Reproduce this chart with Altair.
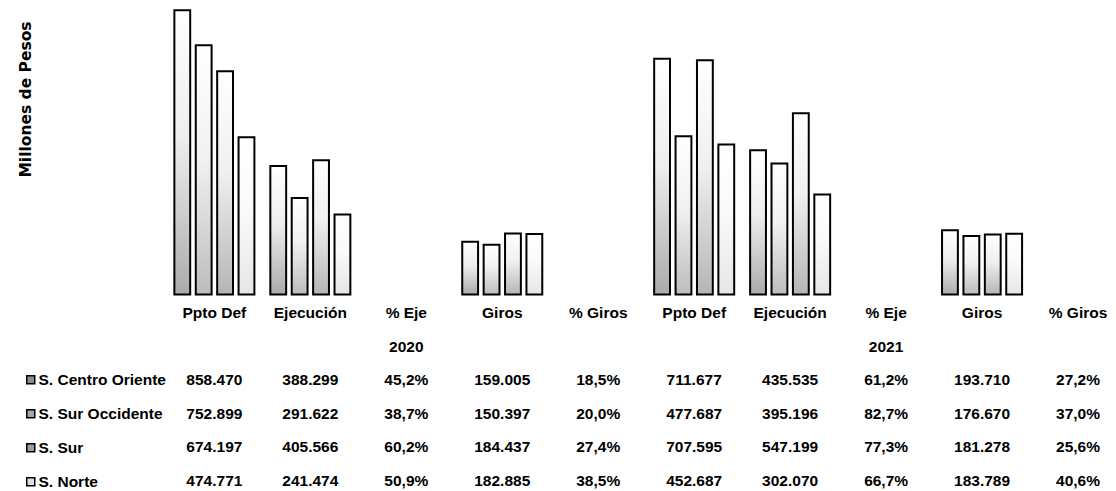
import altair as alt
import pandas as pd

# ---------------- data ----------------
series = ["S. Centro Oriente", "S. Sur Occidente", "S. Sur", "S. Norte"]

ppto_2020 = [858470, 752899, 674197, 474771]
ejec_2020 = [388299, 291622, 405566, 241474]
pct_eje_2020 = [45.2, 38.7, 60.2, 50.9]
giros_2020 = [159005, 150397, 184437, 182885]
pct_giros_2020 = [18.5, 20.0, 27.4, 38.5]

ppto_2021 = [711677, 477687, 707595, 452687]
ejec_2021 = [435535, 395196, 547199, 302070]
pct_eje_2021 = [61.2, 82.7, 77.3, 66.7]
giros_2021 = [193710, 176670, 181278, 183789]
pct_giros_2021 = [27.2, 37.0, 25.6, 40.6]

columns = [
    ("Ppto Def", "2020", ppto_2020, "money"),
    ("Ejecución", "2020", ejec_2020, "money"),
    ("% Eje", "2020", pct_eje_2020, "pct"),
    ("Giros", "2020", giros_2020, "money"),
    ("% Giros", "2020", pct_giros_2020, "pct"),
    ("Ppto Def", "2021", ppto_2021, "money"),
    ("Ejecución", "2021", ejec_2021, "money"),
    ("% Eje", "2021", pct_eje_2021, "pct"),
    ("Giros", "2021", giros_2021, "money"),
    ("% Giros", "2021", pct_giros_2021, "pct"),
]

rows = []
text_rows = []
for label, year, vals, kind in columns:
    key = f"{label}|{year}"
    # header lines of the data table
    text_rows.append(dict(key=key, row="h1", txt=label))
    if label == "% Eje":
        text_rows.append(dict(key=key, row="h2", txt=year))
    for s, v in zip(series, vals):
        if kind == "money":
            txt = f"{v:,}".replace(",", ".")
            rows.append(dict(key=key, series=s, value=v))
        else:
            txt = f"{v:.1f}".replace(".", ",") + "%"
        text_rows.append(dict(key=key, row=s, txt=txt))

bars_df = pd.DataFrame(rows)
text_df = pd.DataFrame(text_rows)
keys = [f"{l}|{y}" for l, y, _, _ in columns]
row_domain = ["h1", "h2"] + series

FONT = "Liberation Sans"
FS = 15.5
fills = ["#8e8e8e", "#a6a6a6", "#9c9c9c", "#dedede"]

x_enc = alt.X(
    "key:N",
    scale=alt.Scale(domain=keys, range=[158.4, 1118], paddingInner=0.166, paddingOuter=0.083),
    axis=None,
)
xoff = alt.XOffset("series:N", scale=alt.Scale(domain=series, paddingInner=0.26, paddingOuter=0))
y_axis = alt.Axis(
    title="Millones de Pesos", labels=False, ticks=False, domain=False, grid=False,
    titleX=17, titleY=91, titleAngle=-90, titleAlign="center", titleBaseline="middle",
    titleFont="DejaVu Sans", titleFontSize=15.5, titleFontWeight="bold", titleColor="black",
)
y_scale = alt.Scale(domain=[0, 865000], range=[286.5, 0], nice=False, zero=True)

base = alt.Chart(bars_df).mark_bar(strokeWidth=0).encode(
    x=x_enc,
    xOffset=xoff,
    y=alt.Y("value:Q", scale=y_scale, axis=y_axis),
    color=alt.Color(
        "series:N",
        scale=alt.Scale(domain=series, range=fills),
        legend=alt.Legend(
            title=None, orient="none", legendX=15, legendY=364, direction="vertical",
            symbolType="square", symbolSize=64, symbolStrokeColor="black", symbolStrokeWidth=1.5,
            labelFont=FONT, labelFontSize=FS, labelFontWeight="bold", labelColor="black",
            labelOffset=0, rowPadding=17, labelLimit=300, padding=0,
        ),
    ),
)

grad = alt.Gradient(
    gradient="linear",
    stops=[
        alt.GradientStop(color="rgba(255,255,255,1)", offset=0),
        alt.GradientStop(color="rgba(255,255,255,0.85)", offset=0.45),
        alt.GradientStop(color="rgba(255,255,255,0.25)", offset=1),
    ],
    x1=0, x2=0, y1=0, y2=1,
)
overlay = alt.Chart(bars_df).mark_bar(fill=grad, stroke="black", strokeWidth=2).encode(
    x=x_enc,
    xOffset=xoff,
    y=alt.Y("value:Q", scale=y_scale, axis=y_axis),
)

bars = alt.layer(base, overlay)

table = alt.Chart(text_df).mark_text(
    font=FONT, fontSize=FS, fontWeight="bold", color="black", baseline="middle", align="center"
).encode(
    x=x_enc,
    y=alt.Y("row:N", scale=alt.Scale(domain=row_domain, type="point", range=[305, 472.5], padding=0), axis=None),
    text="txt:N",
)

chart = (
    alt.layer(bars, table)
    .resolve_scale(y="independent")
    .properties(
        width=1100, height=483,
        autosize=alt.AutoSizeParams(type="none"),
        padding={"left": 0, "top": 0, "right": 0, "bottom": 0},
        view=alt.ViewBackground(stroke="transparent", strokeWidth=0, strokeOpacity=0),
    )
    .configure_view(stroke="transparent", strokeWidth=0, strokeOpacity=0)
    .configure(background="white")
)

chart.save("out.html", embed_options={"renderer": "svg", "actions": False})
